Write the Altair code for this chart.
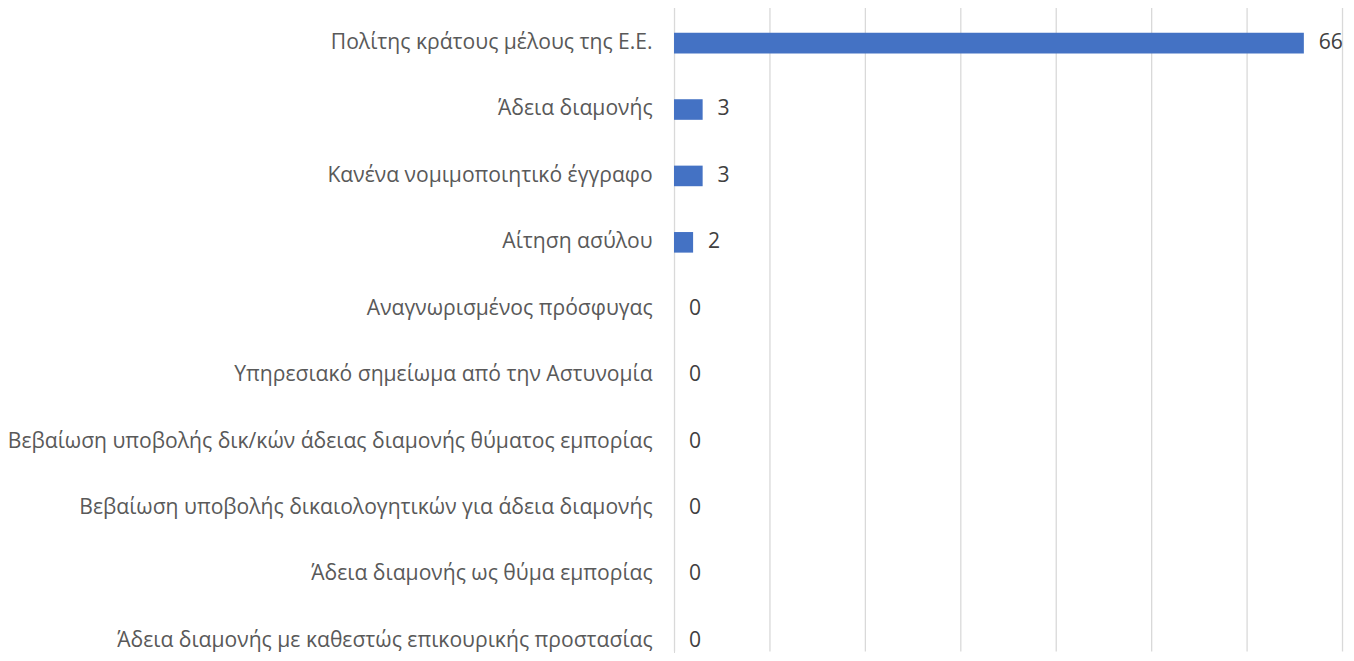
import altair as alt
import pandas as pd

categories = [
    "Πολίτης κράτους μέλους της Ε.Ε.",
    "Άδεια διαμονής",
    "Κανένα νομιμοποιητικό έγγραφο",
    "Αίτηση ασύλου",
    "Αναγνωρισμένος πρόσφυγας",
    "Υπηρεσιακό σημείωμα από την Αστυνομία",
    "Βεβαίωση υποβολής δικ/κών άδειας διαμονής θύματος εμπορίας",
    "Βεβαίωση υποβολής δικαιολογητικών για άδεια διαμονής",
    "Άδεια διαμονής ως θύμα εμπορίας",
    "Άδεια διαμονής με καθεστώς επικουρικής προστασίας",
]
values = [66, 3, 3, 2, 0, 0, 0, 0, 0, 0]

df = pd.DataFrame({"cat": categories, "val": values})

FONT = "Open Sans"
FS = 21.25

y_enc = alt.Y(
    "cat:N",
    sort=categories,
    title=None,
    scale=alt.Scale(paddingInner=0.69, paddingOuter=0.345, range=[0, 668]),
    axis=alt.Axis(
        labelFont=FONT,
        labelFontSize=FS,
        labelColor="#595959",
        labelPadding=22,
        labelLimit=1000,
        ticks=False,
        domain=True,
        domainColor="#D9D9D9",
        grid=False,
    ),
)
x_enc = alt.X(
    "val:Q",
    title=None,
    scale=alt.Scale(domain=[0, 70], nice=False),
    axis=alt.Axis(
        values=[0, 10, 20, 30, 40, 50, 60, 70],
        labels=False,
        ticks=False,
        domain=False,
        grid=True,
        gridColor="#D9D9D9",
        gridWidth=1.3,
    ),
)

bars = alt.Chart(df).mark_bar(color="#4472C4").encode(x=x_enc, y=y_enc)
text = alt.Chart(df).mark_text(
    align="left", baseline="middle", dx=15, font=FONT, fontSize=FS, color="#404040"
).encode(
    x=alt.X("val:Q"),
    y=alt.Y("cat:N", sort=categories),
    text="val:Q",
)

chart = (
    alt.layer(bars, text)
    .properties(
        width=672,
        height=645,
        background="white",
        autosize=alt.AutoSizeParams(type="none"),
        padding={"left": 670, "top": 0, "right": 4, "bottom": 0},
    )
    .configure_view(strokeWidth=0)
)

chart.save("out.html", embed_options={"renderer": "svg", "actions": False})
